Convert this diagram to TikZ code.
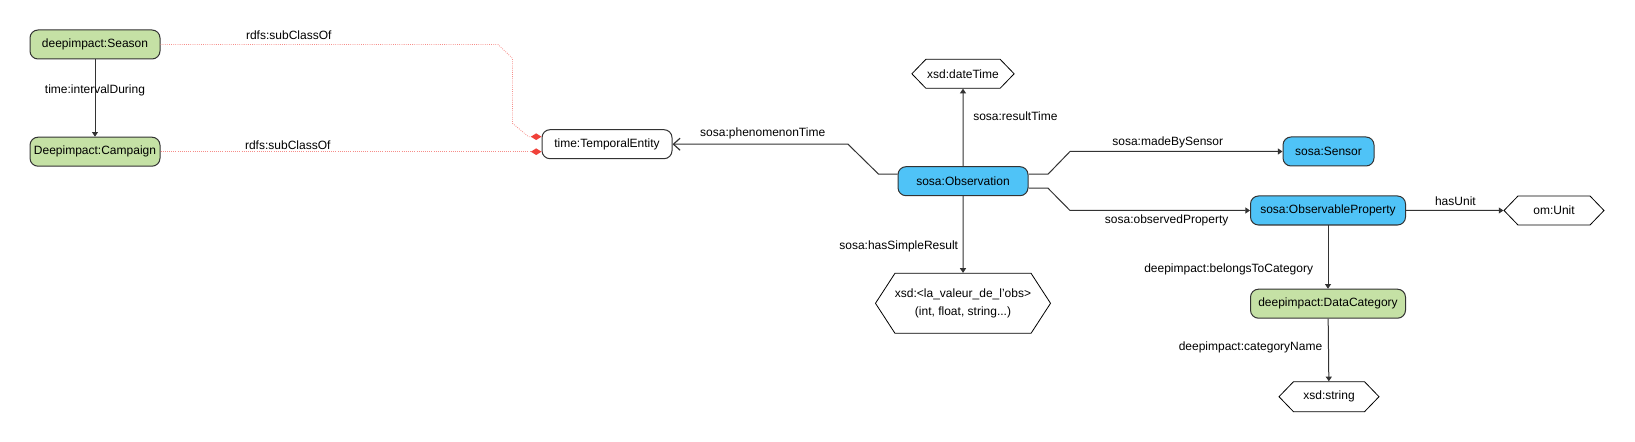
\documentclass[tikz,border=0pt]{standalone}
\usepackage{fontspec}
\setmainfont{Liberation Sans}
\usetikzlibrary{arrows.meta,calc,shapes.symbols}
\definecolor{clsGreen}{HTML}{C5E1A5}
\definecolor{clsBlue}{HTML}{4FC3F7}
\definecolor{subRed}{HTML}{F0413A}
\definecolor{edgeGray}{HTML}{333333}

\begin{document}
\begin{tikzpicture}[x=0.75pt,y=-0.75pt,
  font=\fontsize{9}{11}\selectfont,
  cls/.style={draw=edgeGray, line width=0.75pt, rounded corners=6pt, minimum height=21.75pt, minimum width=97.5pt, inner sep=2pt},
  greenCls/.style={cls, fill=clsGreen},
  blueCls/.style={cls, fill=clsBlue},
  literal/.style={shape=signal, signal to=east and west, signal pointer angle=92, draw=black, line width=0.6pt, minimum width=75pt, minimum height=21.75pt, inner sep=1pt},
  rel/.style={draw=edgeGray, line width=0.75pt, -{Triangle[length=3.5pt,width=4.5pt]}},
  subcls/.style={draw=subRed!60, line width=0.6pt, densely dotted, -{Diamond[length=8pt,width=5pt,color=subRed,fill=subRed,line width=0pt]}}]
\useasboundingbox (0,0) rectangle (1635,442);
\node[greenCls] (season) at (95,44.5) {deepimpact:Season};
\node[greenCls] (campaign) at (95,151.7) {Deepimpact:Campaign};
\node[cls, fill=white] (temporal) at (607,144.2) {time:TemporalEntity};
\node[blueCls] (obs) at (963,181.2) {sosa:Observation};
\node[blueCls, minimum width=68.25pt] (sensor) at (1328.5,151.5) {sosa:Sensor};
\node[blueCls, minimum width=116.25pt] (obsprop) at (1328,210.5) {sosa:ObservableProperty};
\node[greenCls, minimum width=116.25pt] (datacat) at (1328,303.7) {deepimpact:DataCategory};
\node[literal] (datetime) at (963,73.8) {xsd:dateTime};
\node[literal, signal pointer angle=114, inner xsep=0pt, minimum width=127pt, minimum height=45pt, align=center] (result) at (963,303.3) {xsd:<la\_valeur\_de\_l'obs>\\[2pt](int, float, string...)};
\node[literal] (unit) at (1554,210.5) {om:Unit};
\node[literal, minimum height=22.5pt] (string) at (1329,396.7) {xsd:string};

\draw[rel] (season) -- node[pos=0.4]{time:intervalDuring} (campaign);
\draw[subcls] (season.east) -- node[above, pos=0.38]{rdfs:subClassOf} (498,44.5) -- (512.5,58.3) -- (512.5,123.3) -- (528.5,136.7) -- ($(temporal.west)+(0,-7.5)$);
\draw[subcls] (campaign.east) -- node[above, pos=0.334, inner sep=1.5pt]{rdfs:subClassOf} (campaign.east -| temporal.west);
\draw[draw=edgeGray, line width=0.75pt, -{Straight Barb[length=5pt,width=9pt,line width=0.9pt]}] ($(obs.west)+(0,-7)$) -- (878.6,174.2) -- (848,144.2) -- node[above, pos=0.486]{sosa:phenomenonTime} (temporal.east);
\draw[rel] (obs) -- node[right=4pt, pos=0.647]{sosa:resultTime} (datetime);
\draw[rel] (obs) -- node[left, pos=0.657]{sosa:hasSimpleResult} (result);
\draw[rel] ($(obs.east)+(0,-7)$) -- (1048,174.2) -- (1070,151.5) -- node[above, pos=0.46, inner sep=2.5pt]{sosa:madeBySensor} (sensor);
\draw[rel] ($(obs.east)+(0,7)$) -- (1048,188.2) -- (1070,210.5) -- node[below, pos=0.537, inner sep=2.5pt]{sosa:observedProperty} (obsprop);
\draw[rel] (obsprop) -- node[above, pos=0.507]{hasUnit} (unit);
\draw[rel] (obsprop) -- node[left=7.5pt, pos=0.69]{deepimpact:belongsToCategory} (datacat);
\draw[rel] (datacat) -- node[left=1pt, pos=0.46]{deepimpact:categoryName} (string);
\end{tikzpicture}
\end{document}
